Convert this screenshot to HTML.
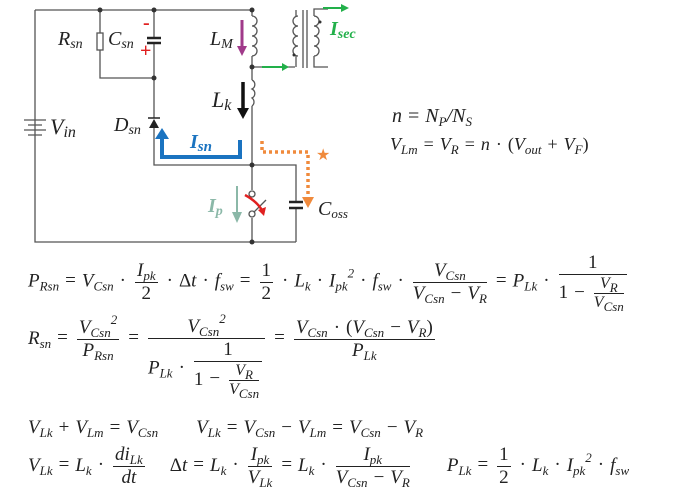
<!DOCTYPE html>
<html><head><meta charset="utf-8">
<style>
body{margin:0;background:#fff;}
#w{position:relative;width:673px;height:498px;overflow:hidden;background:#fff;font-family:"Liberation Serif",serif;color:#222;}
.m{position:absolute;height:0;display:flex;align-items:center;font-style:italic;font-size:19px;white-space:nowrap;}
.in{display:block;line-height:1.1;}
.m i{font-style:normal;}
sub{font-size:13px;vertical-align:-4px;line-height:0;}
sup{font-size:13px;vertical-align:9px;line-height:0;}
.fr{display:inline-flex;flex-direction:column;text-align:center;margin:0 3px;line-height:22px;vertical-align:middle;}
.fr>span:first-child{border-bottom:1px solid #222;padding:0 2px;}
.op{font-style:normal;margin:0 6px;}
.sm{font-size:16px;line-height:18px;}
</style></head><body><div id="w">
<svg width="673" height="250" style="position:absolute;left:0;top:0" font-family="Liberation Serif" font-style="italic">
<g stroke="#555" stroke-width="1.3" fill="none">
<path d="M35 10H252M35 10V242H296M100 10V33M100 50V78H154M154 10V38M154 43V118M154 128V165H296V202M296 208V242M252 10V16M252 56V80M252 106V190M252 218V242M252 67H295M296 10V16M296 56V67"/>
<rect x="97" y="33" width="6" height="17"/>
<path d="M252 16a5 5 0 0 1 0 10a5 5 0 0 1 0 10a5 5 0 0 1 0 10a5 5 0 0 1 0 10"/>
<path d="M252 80a5 5 0 0 1 0 9a5 5 0 0 1 0 9a5 5 0 0 1 0 8"/>
<path d="M298 16a5 5 0 0 0 0 10a5 5 0 0 0 0 10a5 5 0 0 0 0 10a5 5 0 0 0 0 10"/>
<path d="M314 16a5 5 0 0 1 0 10a5 5 0 0 1 0 10a5 5 0 0 1 0 10a5 5 0 0 1 0 10"/>
<path d="M314 16V9H328M314 56V67H328"/>
<path d="M303 10V68M307 10V68"/>
<path d="M24 120H46M28 125H42M24 130H46M28 135H42"/>
<circle cx="252" cy="194" r="3"/><circle cx="252" cy="214" r="3"/>
<path d="M254 212L266 200"/>
</g>
<g stroke="#222" stroke-width="2.5"><path d="M147 38H161M147 43H161M289 202H303M289 208H303"/></g>
<path d="M149 128H159L154 119Z" fill="#222"/><path d="M148 118H160" stroke="#222" stroke-width="1.5"/>
<g fill="#333"><circle cx="100" cy="10" r="2.5"/><circle cx="154" cy="10" r="2.5"/><circle cx="154" cy="78" r="2.5"/><circle cx="252" cy="10" r="2.5"/><circle cx="252" cy="67" r="2.5"/><circle cx="252" cy="165" r="2.5"/><circle cx="252" cy="242" r="2.5"/><circle cx="294" cy="55" r="1.5"/><circle cx="320" cy="22" r="1.5"/></g>
<path d="M245 195Q258 202 263 212" stroke="#e02020" stroke-width="2.5" fill="none"/><path d="M264 216L258 210L266 207Z" fill="#e02020"/>
<path d="M242 20V48" stroke="#a03a8a" stroke-width="3"/><path d="M237 46H247L242 56Z" fill="#a03a8a"/>
<path d="M243 82V110" stroke="#111" stroke-width="3.5"/><path d="M237 108H249L243 119Z" fill="#111"/>
<path d="M237 186V214" stroke="#8bb8a8" stroke-width="2"/><path d="M232 212H242L237 223Z" fill="#8bb8a8"/>
<path d="M240 140V157H162V138" stroke="#1a73c0" stroke-width="4" fill="none"/><path d="M155 139H169L162 128Z" fill="#1a73c0"/>
<path d="M262 141V152H308V198" stroke="#f08a3c" stroke-width="3.5" stroke-dasharray="3,3" fill="none"/><path d="M302 197H314L308 208Z" fill="#f08a3c"/>
<text x="316" y="160" fill="#f08a3c" font-size="16" font-style="normal">★</text>
<path d="M262 67H283" stroke="#22b04a" stroke-width="2"/><path d="M282 63L289 67L282 71Z" fill="#22b04a"/>
<path d="M323 8H342" stroke="#22b04a" stroke-width="2"/><path d="M341 4L349 8L341 12Z" fill="#22b04a"/>
<g font-size="20" fill="#222">
<text x="58" y="45">R<tspan font-size="14" dy="3">sn</tspan></text>
<text x="108" y="45">C<tspan font-size="14" dy="3">sn</tspan></text>
<text x="210" y="45">L<tspan font-size="14" dy="3">M</tspan></text>
<text x="212" y="107" font-size="22">L<tspan font-size="16" dy="3">k</tspan></text>
<text x="114" y="131">D<tspan font-size="14" dy="3">sn</tspan></text>
<text x="50" y="134" font-size="22">V<tspan font-size="16" dy="3">in</tspan></text>
<text x="318" y="215">C<tspan font-size="13" dy="3">oss</tspan></text>
<text x="190" y="148" fill="#1a73c0" font-weight="bold">I<tspan font-size="15" dy="3">sn</tspan></text>
<text x="208" y="212" fill="#8bb8a8" font-weight="bold">I<tspan font-size="14" dy="3">p</tspan></text>
<text x="330" y="35" fill="#22b04a" font-weight="bold">I<tspan font-size="14" dy="3">sec</tspan></text>
</g>
<text x="143" y="29" fill="#e02020" font-size="20" font-style="normal" font-weight="bold">-</text>
<text x="140" y="57" fill="#e02020" font-size="20" font-style="normal" font-weight="bold">+</text>
</svg>

<div class="m" style="left:392px;top:116px;font-size:20px"><span class="in">n<span class="op">=</span>N<sub>P</sub>/N<sub>S</sub></span></div>
<div class="m" style="left:390px;top:145px;font-size:18px"><span class="in">V<sub>Lm</sub><span class="op">=</span>V<sub>R</sub><span class="op">=</span>n<span class="op">·</span><i>(</i>V<sub>out</sub><span class="op">+</span>V<sub>F</sub><i>)</i></span></div>

<div class="m" style="left:28px;top:282px"><span class="in">P<sub>Rsn</sub><span class="op">=</span>V<sub>Csn</sub><span class="op">·</span><span class="fr"><span>I<sub>pk</sub></span><span><i>2</i></span></span><span class="op">·</span><i>Δ</i>t<span class="op">·</span>f<sub>sw</sub><span class="op">=</span><span class="fr"><span><i>1</i></span><span><i>2</i></span></span><span class="op">·</span>L<sub>k</sub><span class="op">·</span>I<sub>pk</sub><sup>2</sup><span class="op">·</span>f<sub>sw</sub><span class="op">·</span><span class="fr"><span>V<sub>Csn</sub></span><span>V<sub>Csn</sub><span class="op">−</span>V<sub>R</sub></span></span><span class="op">=</span>P<sub>Lk</sub><span class="op">·</span><span class="fr"><span><i>1</i></span><span><i>1</i><span class="op">−</span><span class="fr sm"><span>V<sub>R</sub></span><span>V<sub>Csn</sub></span></span></span></span></span></div>

<div class="m" style="left:28px;top:339px"><span class="in">R<sub>sn</sub><span class="op">=</span><span class="fr"><span>V<sub>Csn</sub><sup>2</sup></span><span>P<sub>Rsn</sub></span></span><span class="op">=</span><span class="fr" style="padding-top:36px"><span>V<sub>Csn</sub><sup>2</sup></span><span>P<sub>Lk</sub><span class="op">·</span><span class="fr"><span><i>1</i></span><span><i>1</i><span class="op">−</span><span class="fr sm"><span>V<sub>R</sub></span><span>V<sub>Csn</sub></span></span></span></span></span></span><span class="op">=</span><span class="fr"><span>V<sub>Csn</sub><span class="op">·</span><i>(</i>V<sub>Csn</sub><span class="op">−</span>V<sub>R</sub><i>)</i></span><span>P<sub>Lk</sub></span></span></span></div>

<div class="m" style="left:28px;top:428px"><span class="in">V<sub>Lk</sub><span class="op">+</span>V<sub>Lm</sub><span class="op">=</span>V<sub>Csn</sub><span style="display:inline-block;width:38px"></span>V<sub>Lk</sub><span class="op">=</span>V<sub>Csn</sub><span class="op">−</span>V<sub>Lm</sub><span class="op">=</span>V<sub>Csn</sub><span class="op">−</span>V<sub>R</sub></span></div>

<div class="m" style="left:28px;top:466px"><span class="in">V<sub>Lk</sub><span class="op">=</span>L<sub>k</sub><span class="op">·</span><span class="fr"><span>di<sub>Lk</sub></span><span>dt</span></span><span style="display:inline-block;width:22px"></span><i>Δ</i>t<span class="op">=</span>L<sub>k</sub><span class="op">·</span><span class="fr"><span>I<sub>pk</sub></span><span>V<sub>Lk</sub></span></span><span class="op">=</span>L<sub>k</sub><span class="op">·</span><span class="fr"><span>I<sub>pk</sub></span><span>V<sub>Csn</sub><span class="op">−</span>V<sub>R</sub></span></span><span style="display:inline-block;width:34px"></span>P<sub>Lk</sub><span class="op">=</span><span class="fr"><span><i>1</i></span><span><i>2</i></span></span><span class="op">·</span>L<sub>k</sub><span class="op">·</span>I<sub>pk</sub><sup>2</sup><span class="op">·</span>f<sub>sw</sub></span></div>
</div></body></html>
